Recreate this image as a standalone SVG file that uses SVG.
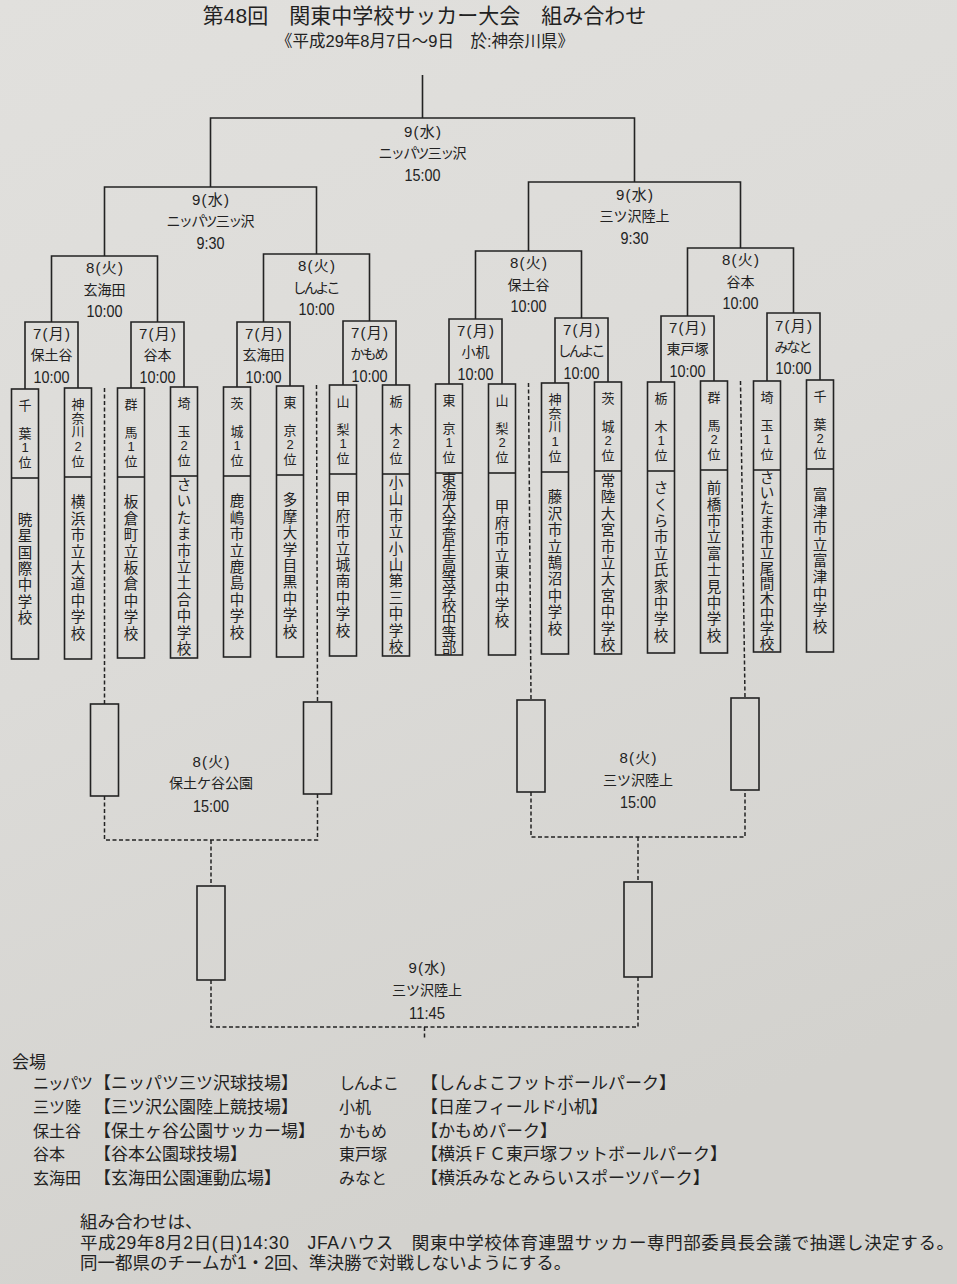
<svg xmlns="http://www.w3.org/2000/svg" width="957" height="1284" viewBox="0 0 957 1284">
<defs>
<linearGradient id="bg" x1="0" y1="0" x2="0.3" y2="1">
<stop offset="0" stop-color="#e1e0dd"/>
<stop offset="0.5" stop-color="#dcdbd8"/>
<stop offset="1" stop-color="#d3d2ce"/>
</linearGradient>
<style>
.ln{fill:none;stroke:#232323;stroke-width:1.6}
.dl{fill:none;stroke:#232323;stroke-width:1.5;stroke-dasharray:4 2.5}
.bx{fill:none;stroke:#232323;stroke-width:1.6}
text{font-family:"Liberation Sans","Noto Sans CJK JP",sans-serif;fill:#222;dominant-baseline:central}
.c{text-anchor:middle}
.d{font-size:15px}
.v{font-size:14px}
.h{font-size:17px}
.p{font-size:13px;text-anchor:middle}
.s{font-size:14.5px;text-anchor:middle}
.lg{font-family:"Liberation Serif","Noto Sans CJK JP",serif;font-size:17px}
.lb{font-family:"Liberation Serif","Noto Sans CJK JP",serif;font-size:16px}
.nt{font-size:17.5px}
</style>
</defs>
<rect x="0" y="0" width="957" height="1284" fill="url(#bg)"/>

<g id="title">
<text class="c" x="424.5" y="15" font-size="21">第48回　関東中学校サッカー大会　組み合わせ</text>
<text class="c" x="425" y="41" font-size="16.5">《平成29年8月7日～9日　於:神奈川県》</text>
</g>

<g id="connectors">
<path class="ln" d="M422.5,75 V118 M210.5,187 V118 H634.5 V182"/>
<path class="ln" d="M104.5,256 V187 H316.5 V254"/>
<path class="ln" d="M528.5,251 V182 H740.5 V248"/>
<path class="ln" d="M51.5,322 V256 H157.5 V322"/>
<path class="ln" d="M263.5,322 V254 H369.5 V321"/>
<path class="ln" d="M475.5,319 V251 H581.5 V318"/>
<path class="ln" d="M687.5,316 V248 H793.5 V313"/>
<path class="ln" d="M25,389 V322 H78 V388"/>
<path class="ln" d="M131,388 V322 H184 V387"/>
<path class="ln" d="M237,387 V322 H290 V386"/>
<path class="ln" d="M343,385 V321 H396 V385"/>
<path class="ln" d="M449,384 V319 H502 V384"/>
<path class="ln" d="M555,383 V318 H608 V382"/>
<path class="ln" d="M661,382 V316 H714 V381"/>
<path class="ln" d="M767,381 V313 H820 V380"/>
<path class="dl" d="M104.5,388 L104.5,704"/>
<path class="dl" d="M316.5,385 L317.5,702"/>
<path class="dl" d="M528.5,383 L531,700"/>
<path class="dl" d="M740.5,381 L745,698"/>
<path class="dl" d="M104.5,796 V840 H317.5 V794 M211,840 V886"/>
<path class="dl" d="M531,792 V837 H745 V790 M638,837 V882"/>
<path class="dl" d="M211,980 V1027 H638 V977 M424.5,1027 V1040"/>
</g>

<g id="match-final">
<text class="c d" x="422.5" y="131" textLength="37">9(水)</text>
<text class="c v" x="422.5" y="153" textLength="88">ニッパツ三ッ沢</text>
<text class="c h" x="422.5" y="175" textLength="36" lengthAdjust="spacingAndGlyphs">15:00</text>
</g>
<g id="match-sf1">
<text class="c d" x="210.5" y="199" textLength="37">9(水)</text>
<text class="c v" x="210.5" y="221" textLength="88">ニッパツ三ッ沢</text>
<text class="c h" x="210.5" y="243" textLength="28" lengthAdjust="spacingAndGlyphs">9:30</text>
</g>
<g id="match-sf2">
<text class="c d" x="634.5" y="194" textLength="37">9(水)</text>
<text class="c v" x="634.5" y="216">三ツ沢陸上</text>
<text class="c h" x="634.5" y="238" textLength="28" lengthAdjust="spacingAndGlyphs">9:30</text>
</g>
<g id="match-qf1">
<text class="c d" x="104.5" y="267" textLength="37">8(火)</text>
<text class="c v" x="104.5" y="290">玄海田</text>
<text class="c h" x="104.5" y="311" textLength="36" lengthAdjust="spacingAndGlyphs">10:00</text>
</g>
<g id="match-qf2">
<text class="c d" x="316.5" y="265" textLength="37">8(火)</text>
<text class="c v" x="316.5" y="288" textLength="48">しんよこ</text>
<text class="c h" x="316.5" y="309" textLength="36" lengthAdjust="spacingAndGlyphs">10:00</text>
</g>
<g id="match-qf3">
<text class="c d" x="528.5" y="262" textLength="37">8(火)</text>
<text class="c v" x="528.5" y="285">保土谷</text>
<text class="c h" x="528.5" y="306" textLength="36" lengthAdjust="spacingAndGlyphs">10:00</text>
</g>
<g id="match-qf4">
<text class="c d" x="740.5" y="259" textLength="37">8(火)</text>
<text class="c v" x="740.5" y="282">谷本</text>
<text class="c h" x="740.5" y="303" textLength="36" lengthAdjust="spacingAndGlyphs">10:00</text>
</g>

<g id="match-r1-1">
<text class="c d" x="51.5" y="333" textLength="37">7(月)</text>
<text class="c v" x="51.5" y="355">保土谷</text>
<text class="c h" x="51.5" y="377" textLength="36" lengthAdjust="spacingAndGlyphs">10:00</text>
</g>
<g id="match-r1-2">
<text class="c d" x="157.5" y="333" textLength="37">7(月)</text>
<text class="c v" x="157.5" y="355">谷本</text>
<text class="c h" x="157.5" y="377" textLength="36" lengthAdjust="spacingAndGlyphs">10:00</text>
</g>
<g id="match-r1-3">
<text class="c d" x="263.5" y="333" textLength="37">7(月)</text>
<text class="c v" x="263.5" y="355">玄海田</text>
<text class="c h" x="263.5" y="377" textLength="36" lengthAdjust="spacingAndGlyphs">10:00</text>
</g>
<g id="match-r1-4">
<text class="c d" x="369.5" y="332" textLength="37">7(月)</text>
<text class="c v" x="369.5" y="354" textLength="38">かもめ</text>
<text class="c h" x="369.5" y="376" textLength="36" lengthAdjust="spacingAndGlyphs">10:00</text>
</g>
<g id="match-r1-5">
<text class="c d" x="475.5" y="330" textLength="37">7(月)</text>
<text class="c v" x="475.5" y="352">小机</text>
<text class="c h" x="475.5" y="374" textLength="36" lengthAdjust="spacingAndGlyphs">10:00</text>
</g>
<g id="match-r1-6">
<text class="c d" x="581.5" y="329" textLength="37">7(月)</text>
<text class="c v" x="581.5" y="351" textLength="48">しんよこ</text>
<text class="c h" x="581.5" y="373" textLength="36" lengthAdjust="spacingAndGlyphs">10:00</text>
</g>
<g id="match-r1-7">
<text class="c d" x="687.5" y="327" textLength="37">7(月)</text>
<text class="c v" x="687.5" y="349">東戸塚</text>
<text class="c h" x="687.5" y="371" textLength="36" lengthAdjust="spacingAndGlyphs">10:00</text>
</g>
<g id="match-r1-8">
<text class="c d" x="793.5" y="325" textLength="37">7(月)</text>
<text class="c v" x="793.5" y="347" textLength="38">みなと</text>
<text class="c h" x="793.5" y="368" textLength="36" lengthAdjust="spacingAndGlyphs">10:00</text>
</g>

<g id="team-01">
<rect class="bx" x="11.5" y="389" width="27" height="270"/><path class="ln" d="M11.5,478 H38.5"/>
<text class="p" x="25 25 25 25" y="405 433 447 462">千葉1位</text>
<text class="s" x="25 25 25 25 25 25 25" y="519.5 535.5 552.5 568.5 584.5 601.5 617.5">暁星国際中学校</text>
</g>
<g id="team-02">
<rect class="bx" x="64.5" y="388" width="27" height="271"/><path class="ln" d="M64.5,477 H91.5"/>
<text class="p" x="78 78 78 78 78" y="404 418 431 446 461">神奈川2位</text>
<text class="s" x="78 78 78 78 78 78 78 78 78" y="502 519 535 552 568 584 601 617 634">横浜市立大道中学校</text>
</g>
<g id="team-03">
<rect class="bx" x="117.5" y="388" width="27" height="270"/><path class="ln" d="M117.5,477 H144.5"/>
<text class="p" x="131 131 131 131" y="404 432 446 461">群馬1位</text>
<text class="s" x="131 131 131 131 131 131 131 131 131" y="501.5 518.5 534.5 551.5 567.5 583.5 600.5 616.5 633.5">板倉町立板倉中学校</text>
</g>
<g id="team-04">
<rect class="bx" x="170.5" y="387" width="27" height="271"/><path class="ln" d="M170.5,476 H197.5"/>
<text class="p" x="184 184 184 184" y="403 431 445 460">埼玉2位</text>
<text class="s" x="184 184 184 184 184 184 184 184 184 184 184" y="485 501 518 534 551 567 583 600 616 633 649">さいたま市立土合中学校</text>
</g>
<g id="team-05">
<rect class="bx" x="223.5" y="387" width="27" height="270"/><path class="ln" d="M223.5,476 H250.5"/>
<text class="p" x="237 237 237 237" y="403 431 445 460">茨城1位</text>
<text class="s" x="237 237 237 237 237 237 237 237 237" y="500.5 517.5 533.5 550.5 566.5 582.5 599.5 615.5 632.5">鹿嶋市立鹿島中学校</text>
</g>
<g id="team-06">
<rect class="bx" x="276.5" y="386" width="27" height="271"/><path class="ln" d="M276.5,475 H303.5"/>
<text class="p" x="290 290 290 290" y="402 430 444 459">東京2位</text>
<text class="s" x="290 290 290 290 290 290 290 290 290" y="500 517 533 550 566 582 599 615 632">多摩大学目黒中学校</text>
</g>
<g id="team-07">
<rect class="bx" x="329.5" y="385" width="27" height="271"/><path class="ln" d="M329.5,474 H356.5"/>
<text class="p" x="343 343 343 343" y="401 429 443 458">山梨1位</text>
<text class="s" x="343 343 343 343 343 343 343 343 343" y="499 516 532 549 565 581 598 614 631">甲府市立城南中学校</text>
</g>
<g id="team-08">
<rect class="bx" x="382.5" y="385" width="27" height="271"/><path class="ln" d="M382.5,474 H409.5"/>
<text class="p" x="396 396 396 396" y="401 429 443 458">栃木2位</text>
<text class="s" x="396 396 396 396 396 396 396 396 396 396 396" y="483 499 516 532 549 565 581 598 614 631 647">小山市立小山第三中学校</text>
</g>
<g id="team-09">
<rect class="bx" x="435.5" y="384" width="27" height="271"/><path class="ln" d="M435.5,473 H462.5"/>
<text class="p" x="449 449 449 449" y="400 428 442 457">東京1位</text>
<text class="s" x="449 449 449 449 449 449 449 449 449 449 449 449 449" y="480 494 508 522 536 550 564 578 592 606 620 634 648">東海大学菅生高等学校中等部</text>
</g>
<g id="team-10">
<rect class="bx" x="488.5" y="384" width="27" height="271"/><path class="ln" d="M488.5,473 H515.5"/>
<text class="p" x="502 502 502 502" y="400 428 442 457">山梨2位</text>
<text class="s" x="502 502 502 502 502 502 502 502" y="507 523 539 556 572 589 605 621">甲府市立東中学校</text>
</g>
<g id="team-11">
<rect class="bx" x="541.5" y="383" width="27" height="271"/><path class="ln" d="M541.5,472 H568.5"/>
<text class="p" x="555 555 555 555 555" y="399 413 426 441 456">神奈川1位</text>
<text class="s" x="555 555 555 555 555 555 555 555 555" y="497 514 530 547 563 579 596 612 629">藤沢市立鵠沼中学校</text>
</g>
<g id="team-12">
<rect class="bx" x="594.5" y="382" width="27" height="272"/><path class="ln" d="M594.5,471 H621.5"/>
<text class="p" x="608 608 608 608" y="398 426 440 455">茨城2位</text>
<text class="s" x="608 608 608 608 608 608 608 608 608 608 608" y="480.5 496.5 513.5 529.5 546.5 562.5 578.5 595.5 611.5 628.5 644.5">常陸大宮市立大宮中学校</text>
</g>
<g id="team-13">
<rect class="bx" x="647.5" y="382" width="27" height="271"/><path class="ln" d="M647.5,471 H674.5"/>
<text class="p" x="661 661 661 661" y="398 426 440 455">栃木1位</text>
<text class="s" x="661 661 661 661 661 661 661 661 661 661" y="488 505 521 537 554 570 587 603 619 636">さくら市立氏家中学校</text>
</g>
<g id="team-14">
<rect class="bx" x="700.5" y="381" width="27" height="272"/><path class="ln" d="M700.5,470 H727.5"/>
<text class="p" x="714 714 714 714" y="397 425 439 454">群馬2位</text>
<text class="s" x="714 714 714 714 714 714 714 714 714 714" y="487.5 504.5 520.5 536.5 553.5 569.5 586.5 602.5 618.5 635.5">前橋市立富士見中学校</text>
</g>
<g id="team-15">
<rect class="bx" x="753.5" y="381" width="27" height="271"/><path class="ln" d="M753.5,470 H780.5"/>
<text class="p" x="767 767 767 767" y="397 425 439 454">埼玉1位</text>
<text class="s" x="767 767 767 767 767 767 767 767 767 767 767 767" y="478 493 508 523 538 553 569 584 599 614 629 644">さいたま市立尾間木中学校</text>
</g>
<g id="team-16">
<rect class="bx" x="806.5" y="380" width="27" height="272"/><path class="ln" d="M806.5,469 H833.5"/>
<text class="p" x="820 820 820 820" y="396 424 438 453">千葉2位</text>
<text class="s" x="820 820 820 820 820 820 820 820 820" y="494.5 511.5 527.5 544.5 560.5 576.5 593.5 609.5 626.5">富津市立富津中学校</text>
</g>

<g id="slot-a"><rect class="bx" x="90.5" y="704" width="28" height="92"/></g>
<g id="slot-b"><rect class="bx" x="303.5" y="702" width="28" height="92"/></g>
<g id="slot-c"><rect class="bx" x="517" y="700" width="28" height="92"/></g>
<g id="slot-d"><rect class="bx" x="731" y="698" width="28" height="92"/></g>
<g id="slot-e"><rect class="bx" x="197" y="886" width="28" height="94"/></g>
<g id="slot-f"><rect class="bx" x="624" y="882" width="28" height="95"/></g>

<g id="match-r3-1">
<text class="c d" x="211" y="761" textLength="37">8(火)</text>
<text class="c v" x="211" y="783">保土ケ谷公園</text>
<text class="c h" x="211" y="806" textLength="36" lengthAdjust="spacingAndGlyphs">15:00</text>
</g>
<g id="match-r3-2">
<text class="c d" x="638" y="757" textLength="37">8(火)</text>
<text class="c v" x="638" y="780">三ツ沢陸上</text>
<text class="c h" x="638" y="802" textLength="36" lengthAdjust="spacingAndGlyphs">15:00</text>
</g>
<g id="match-r4">
<text class="c d" x="427" y="967" textLength="37">9(水)</text>
<text class="c v" x="427" y="990">三ツ沢陸上</text>
<text class="c h" x="427" y="1013" textLength="36" lengthAdjust="spacingAndGlyphs">11:45</text>
</g>

<g id="legend">
<text class="lg" x="12" y="1062" font-size="19">会場</text>
<text class="lb" x="33" y="1083" textLength="60">ニッパツ</text>
<text class="lg" x="94" y="1083">【ニッパツ三ツ沢球技場】</text>
<text class="lb" x="339" y="1083" textLength="60">しんよこ</text>
<text class="lg" x="421" y="1083">【しんよこフットボールパーク】</text>
<text class="lb" x="33" y="1107">三ツ陸</text>
<text class="lg" x="94" y="1107">【三ツ沢公園陸上競技場】</text>
<text class="lb" x="339" y="1107">小机</text>
<text class="lg" x="421" y="1107">【日産フィールド小机】</text>
<text class="lb" x="33" y="1131">保土谷</text>
<text class="lg" x="94" y="1131">【保土ヶ谷公園サッカー場】</text>
<text class="lb" x="339" y="1131">かもめ</text>
<text class="lg" x="421" y="1131">【かもめパーク】</text>
<text class="lb" x="33" y="1154">谷本</text>
<text class="lg" x="94" y="1154">【谷本公園球技場】</text>
<text class="lb" x="339" y="1154">東戸塚</text>
<text class="lg" x="421" y="1154">【横浜ＦＣ東戸塚フットボールパーク】</text>
<text class="lb" x="33" y="1178">玄海田</text>
<text class="lg" x="94" y="1178">【玄海田公園運動広場】</text>
<text class="lb" x="339" y="1178">みなと</text>
<text class="lg" x="421" y="1178">【横浜みなとみらいスポーツパーク】</text>
</g>

<g id="note">
<text class="nt" x="80" y="1222">組み合わせは、</text>
<text class="nt" x="80" y="1243" textLength="874">平成29年8月2日(日)14:30　JFAハウス　関東中学校体育連盟サッカー専門部委員長会議で抽選し決定する。</text>
<text class="nt" x="80" y="1263">同一都県のチームが1・2回、準決勝で対戦しないようにする。</text>
</g>
</svg>
